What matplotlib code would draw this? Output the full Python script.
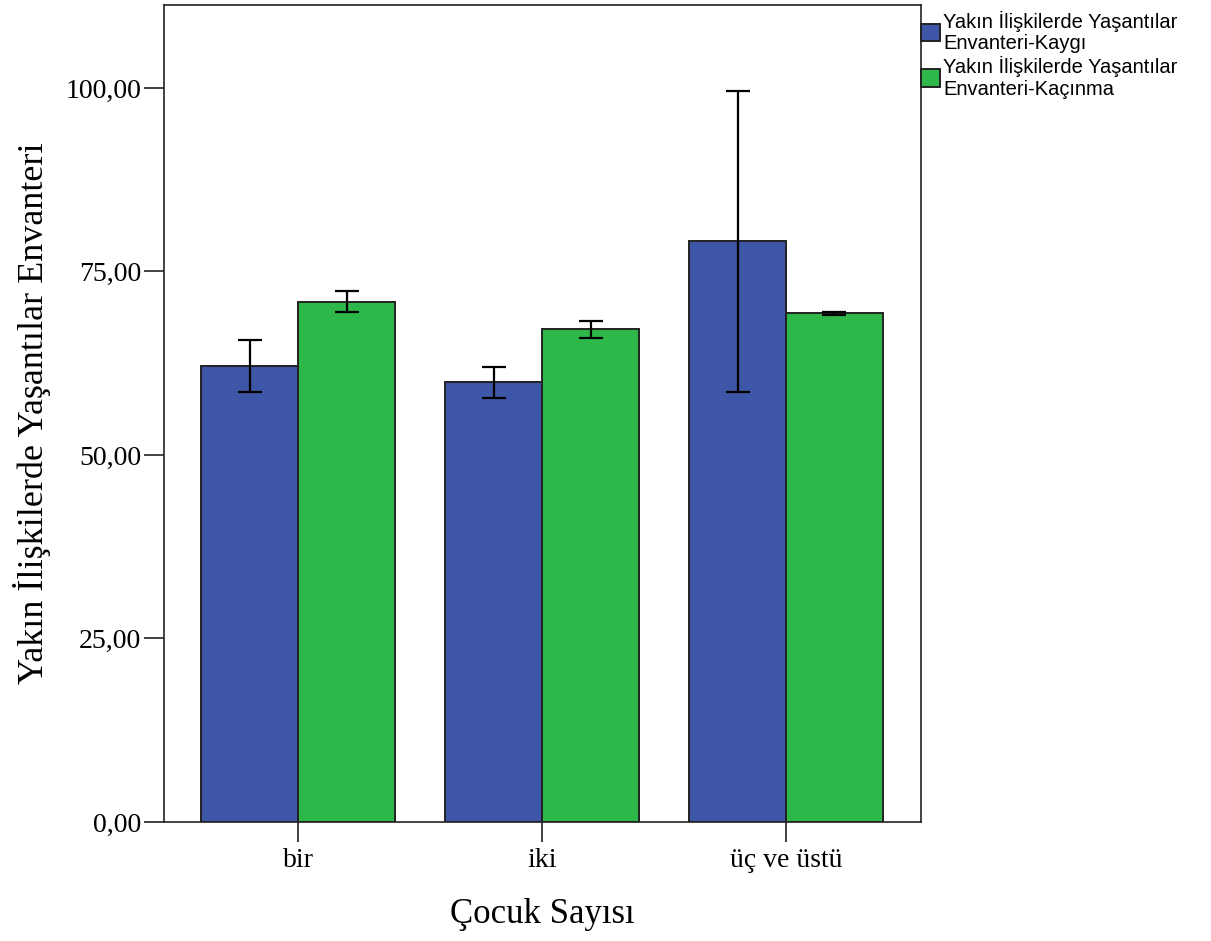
import numpy as np
import matplotlib.pyplot as plt

# values
groups = ['bir', 'iki', 'üç ve üstü']
series = ['Yakın İlişkilerde Yaşantılar\nEnvanteri-Kaygı',
          'Yakın İlişkilerde Yaşantılar\nEnvanteri-Kaçınma']
kaygi = [62.1, 59.9, 79.2]
kaygi_lo = [58.6, 57.8, 58.6]
kaygi_hi = [65.7, 62.0, 99.6]
kacinma = [70.8, 67.2, 69.3]
kacinma_lo = [69.5, 65.9, 69.1]
kacinma_hi = [72.3, 68.3, 69.5]
yticks = [0, 25, 50, 75, 100]
ytick_labels = ['0,00', '25,00', '50,00', '75,00', '100,00']

colors = ['#3D56A8', '#2EB84A']

fig = plt.figure(figsize=(12.11, 9.41), dpi=100)
ax = fig.add_axes([0.1354, 0.1265, 0.6251, 0.8682])

x = np.arange(len(groups))
w = 0.397
for i, (vals, lo, hi) in enumerate([(kaygi, kaygi_lo, kaygi_hi),
                                    (kacinma, kacinma_lo, kacinma_hi)]):
    pos = x + (i - 0.5) * w
    vals = np.array(vals)
    yerr = [vals - np.array(lo), np.array(hi) - vals]
    ax.bar(pos, vals, width=w, color=colors[i], edgecolor='#222222',
           linewidth=1.4, label=series[i], zorder=2)
    ax.errorbar(pos, vals, yerr=yerr, fmt='none', ecolor='black',
                elinewidth=1.6, capsize=8.6, capthick=1.6, zorder=3)

ax.set_xlim(-0.55, 2.553)
ax.set_ylim(0, 111.3)
ax.set_yticks(yticks)
ax.set_yticklabels(ytick_labels, family='Liberation Serif', fontsize=20)
ax.set_xticks(x)
ax.set_xticklabels(groups, family='Liberation Serif', fontsize=20)
ax.tick_params(axis='both', length=14.5, width=1.3, color='#333333', pad=2)
ax.tick_params(axis='x', pad=4)
for s in ax.spines.values():
    s.set_linewidth(1.2)
    s.set_color('#222222')

ax.set_ylabel('Yakın İlişkilerde Yaşantılar Envanteri',
              family='Liberation Serif', fontsize=26, labelpad=10)
ax.set_xlabel('Çocuk Sayısı', family='Liberation Serif', fontsize=25,
              labelpad=18)

leg = fig.legend(loc='upper left', bbox_to_anchor=(921 / 1211, 1 - 11 / 941),
                 frameon=False,
                 prop={'family': 'Liberation Sans', 'size': 14.5},
                 handlelength=0.95, handleheight=0.95, handletextpad=0.15,
                 labelspacing=0.15, borderaxespad=0, borderpad=0)
for t in leg.get_texts():
    t.set_linespacing(1.15)
for p in leg.get_patches():
    p.set_edgecolor('#222222')
    p.set_linewidth(1.4)

fig.savefig('out.png', dpi=100)
